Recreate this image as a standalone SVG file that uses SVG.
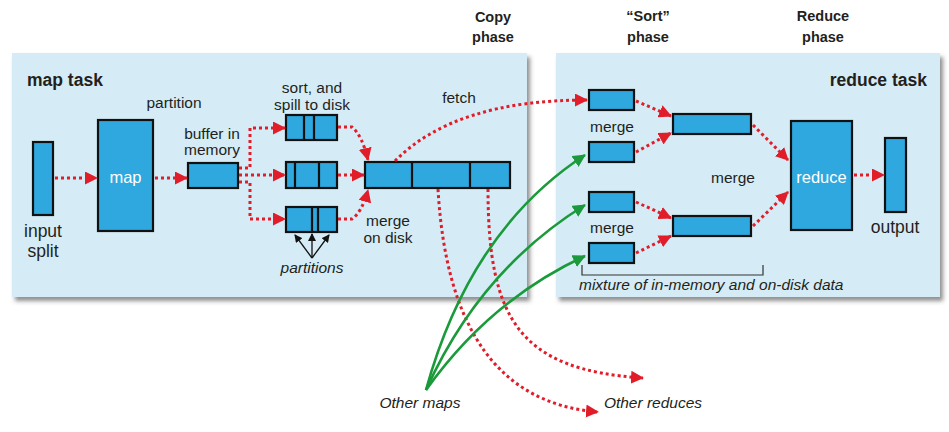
<svg xmlns="http://www.w3.org/2000/svg" width="949" height="432" viewBox="0 0 949 432">
<defs>
<style>
text{font-family:"Liberation Sans",Arial,sans-serif;fill:#231f20;font-size:15.5px}
.t{font-weight:bold;font-size:17.5px}
.ph{font-weight:bold;font-size:14.5px;text-anchor:middle}
.c{text-anchor:middle}
.i{font-style:italic}
.w{fill:#fff;font-size:16.5px;text-anchor:middle}
.big{font-size:17.5px;text-anchor:middle}
.panel{fill:#d5ecf6}
.box{fill:#2ea8de;stroke:#111;stroke-width:2.2}
.div{stroke:#111;stroke-width:2.2}
.red{fill:none;stroke:#e11d2a;stroke-width:3;stroke-dasharray:3 3;marker-end:url(#ar)}
.grn{fill:none;stroke:#1a9a3a;stroke-width:2.6;marker-end:url(#ag)}
.blk{fill:none;stroke:#111;stroke-width:1.3;marker-end:url(#ab)}
</style>
<marker id="ar" markerUnits="userSpaceOnUse" viewBox="0 0 13 13" markerWidth="13" markerHeight="13" refX="12" refY="6.5" orient="auto"><path d="M0,0 L13,6.5 L0,13 Z" fill="#e11d2a"/></marker>
<marker id="ag" markerUnits="userSpaceOnUse" viewBox="0 0 13 13" markerWidth="13" markerHeight="13" refX="12" refY="6.5" orient="auto"><path d="M0,0 L13,6.5 L0,13 Z" fill="#1a9a3a"/></marker>
<marker id="ab" markerUnits="userSpaceOnUse" viewBox="0 0 8 8" markerWidth="8" markerHeight="8" refX="7" refY="4" orient="auto"><path d="M0,0 L8,4 L0,8 Z" fill="#111"/></marker>
<filter id="sh" x="-5%" y="-5%" width="115%" height="120%"><feDropShadow dx="3" dy="4" stdDeviation="2" flood-color="#444" flood-opacity="0.6"/></filter>
</defs>
<rect width="949" height="432" fill="#fff"/>
<g id="map-task">
<rect class="panel" x="12" y="53" width="515" height="244" filter="url(#sh)"/>
<text class="t" x="27" y="86">map task</text>
</g>
<g id="reduce-task">
<rect class="panel" x="556" y="53" width="384" height="244" filter="url(#sh)"/>
<text class="t" x="927" y="86" text-anchor="end">reduce task</text>
</g>
<g id="phases">
<text class="ph" x="493" y="22">Copy</text><text class="ph" x="493" y="42">phase</text>
<text class="ph" x="648" y="21">“Sort”</text><text class="ph" x="648" y="42">phase</text>
<text class="ph" x="823" y="21">Reduce</text><text class="ph" x="823" y="42">phase</text>
</g>
<g id="input-split">
<rect class="box" x="33" y="142" width="20" height="73"/>
<text class="big" x="43" y="237">input</text><text class="big" x="43" y="257">split</text>
</g>
<g id="map">
<rect class="box" x="98" y="120" width="55" height="111"/>
<text class="w" x="125.5" y="183">map</text>
<text class="c" x="174" y="108">partition</text>
</g>
<g id="buffer">
<rect class="box" x="188" y="163" width="50" height="25"/>
<text class="c" x="212" y="139">buffer in</text><text class="c" x="212" y="155">memory</text>
</g>
<g id="spill">
<text class="c" x="312" y="93">sort, and</text><text class="c" x="312" y="110">spill to disk</text>
<rect class="box" x="286" y="115" width="51" height="25"/>
<path class="div" d="M304,115V140M314,115V140"/>
<rect class="box" x="286" y="162" width="51" height="26"/>
<path class="div" d="M295,162V188M319,162V188"/>
<rect class="box" x="286" y="207" width="51" height="25"/>
<path class="div" d="M312,207V232M318,207V232"/>
<text class="c i" x="312" y="273">partitions</text>
</g>
<g id="merged">
<rect class="box" x="365" y="162" width="145" height="26"/>
<path class="div" d="M412,162V188M470,162V188"/>
<text class="c" x="388" y="226">merge</text><text class="c" x="388" y="243">on disk</text>
<text class="c" x="459" y="103">fetch</text>
</g>
<g id="sort-merge">
<rect class="box" x="589" y="90" width="45" height="20"/>
<rect class="box" x="589" y="142" width="45" height="20"/>
<rect class="box" x="589" y="192" width="45" height="20"/>
<rect class="box" x="589" y="243" width="45" height="20"/>
<text class="c" x="612" y="132">merge</text>
<text class="c" x="612" y="233">merge</text>
<rect class="box" x="673" y="114" width="78" height="20"/>
<rect class="box" x="673" y="216" width="78" height="20"/>
<text class="c" x="733" y="183">merge</text>
<path d="M582,265V275H763V265" fill="none" stroke="#333" stroke-width="1.2"/>
<text class="i" x="579" y="290">mixture of in-memory and on-disk data</text>
</g>
<g id="reduce">
<rect class="box" x="791" y="121" width="61" height="109"/>
<text class="w" x="821.5" y="183">reduce</text>
</g>
<g id="output">
<rect class="box" x="885" y="138" width="21" height="74"/>
<text class="big" x="895" y="233">output</text>
</g>
<g id="others">
<text class="c i" x="420" y="408">Other maps</text>
<text class="c i" x="653" y="408">Other reduces</text>
</g>
<g id="connectors">
<path class="red" d="M55,178H97"/>
<path class="red" d="M155,178H187"/>
<path class="red" d="M239,168H250V128H285"/>
<path class="red" d="M239,175H285"/>
<path class="red" d="M239,182H250V219H285"/>
<path class="red" d="M338,127H352Q362,135 368,160"/>
<path class="red" d="M338,175H364"/>
<path class="red" d="M338,219H352Q362,212 368,190"/>
<path class="red" d="M395,161Q455,100 587,100"/>
<path class="red" d="M636,101L671,116"/>
<path class="red" d="M636,152L671,133"/>
<path class="red" d="M636,202L671,218"/>
<path class="red" d="M636,253L671,236"/>
<path class="red" d="M753,125L788,160"/>
<path class="red" d="M753,226L788,192"/>
<path class="red" d="M854,175H884"/>
<path class="red" d="M438,189Q450,400 598,412"/>
<path class="red" d="M488,189C488,320 520,370 643,378"/>
<path class="grn" d="M426,390Q470,230 585,155"/>
<path class="grn" d="M426,390Q480,270 585,205"/>
<path class="grn" d="M426,390Q490,300 585,256"/>
<path class="blk" d="M312,258L295,235"/>
<path class="blk" d="M312,258V234"/>
<path class="blk" d="M312,258L329,235"/>
</g>
</svg>
